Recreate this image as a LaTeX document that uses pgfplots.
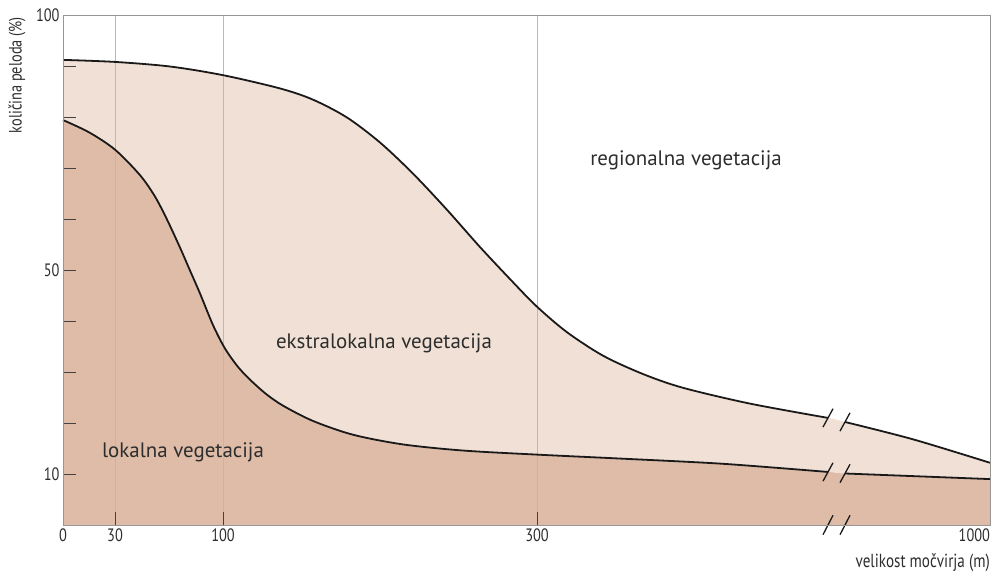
\documentclass[border=0pt]{standalone}
\usepackage{fontspec}
\setmainfont{PT Sans}
\usepackage{graphicx}
\usepackage{pgfplots}
\usepackage{pgfplotstable}
\pgfplotsset{compat=1.18}
\definecolor{lightf}{RGB}{240,224,213}
\definecolor{darkf}{RGB}{222,188,168}
\definecolor{framec}{RGB}{150,150,150}
\definecolor{gridc}{RGB}{185,185,185}
\definecolor{txt}{RGB}{45,45,45}
\newcommand{\nar}[1]{\scalebox{0.8}[1]{#1}}
\pgfplotstableread{
x y
0 91.2
52 90.8
107 89.9
160 88.2
217 85.6
250 83.4
284 79.9
317 75.0
350 68.9
384 61.8
417 54.5
450 47.6
474 42.8
504 37.8
540 33.2
580 29.6
620 26.9
687 23.8
765 21.0
782 20.2
850 16.8
927 12.2
}\uppercurve
\pgfplotstableread{
x y
0 79.4
26 77.0
52 73.6
77 68.6
92 64.4
104 59.9
117 54.4
127 49.9
137 45.4
150 39.2
162 34.6
175 31.0
187 28.5
203 25.7
220 23.4
250 20.4
290 17.7
340 15.8
400 14.6
474 13.8
560 13.0
660 12.0
765 10.4
782 10.1
927 9.0
}\lowercurve
\begin{document}
\begin{tikzpicture}
\path[use as bounding box] (-63bp,-48bp) rectangle (929bp,525bp);
\begin{axis}[
  at={(0,0)}, anchor=south west,
  scale only axis, width=927bp, height=510bp,
  xmin=0, xmax=927, ymin=0, ymax=100,
  axis on top,
  axis line style={framec, line width=0.9bp},
  tick align=inside, tick pos=left,
  major tick length=13bp,
  tick style={txt!90, line width=0.9bp},
  xtick={0,52,160,474,927},
  xticklabels={\nar{0},\nar{30},\nar{100},\nar{300},\llap{\nar{1000}}},
  ytick={10,20,30,40,50,60,70,80,90,100},
  yticklabels={\nar{10},,,,\nar{50},,,,,\nar{100}},
  ticklabel style={font=\fontsize{18}{18}\selectfont, text=txt},
  clip=false,
]
% areas
\addplot[fill=lightf, draw=none, smooth] table {\uppercurve} \closedcycle;
\addplot[fill=darkf, draw=none, smooth] table {\lowercurve} \closedcycle;
% grid lines
\addplot[gridc, line width=0.9bp] coordinates {(52,0) (52,100)};
\addplot[gridc, line width=0.9bp] coordinates {(160,0) (160,100)};
\addplot[gridc, line width=0.9bp] coordinates {(474,0) (474,100)};
% curves (broken at the axis break)
\addplot[black!90, line width=1.8bp, smooth, restrict x to domain=0:770] table {\uppercurve};
\addplot[black!90, line width=1.8bp, smooth, restrict x to domain=775:927] table {\uppercurve};
\addplot[black!90, line width=1.8bp, smooth, restrict x to domain=0:770] table {\lowercurve};
\addplot[black!90, line width=1.8bp, smooth, restrict x to domain=775:927] table {\lowercurve};
% break marks
\draw[black!90, line width=1.3bp] (axis cs:760,19.2) -- (axis cs:770,22.8);
\draw[black!90, line width=1.3bp] (axis cs:777,18.4) -- (axis cs:787,22.0);
\draw[black!90, line width=1.3bp] (axis cs:760,8.6) -- (axis cs:770,12.2);
\draw[black!90, line width=1.3bp] (axis cs:777,8.3) -- (axis cs:787,11.9);
\draw[black!90, line width=1.3bp] (axis cs:760,-1.9) -- (axis cs:770,1.9);
\draw[black!90, line width=1.3bp] (axis cs:777,-1.9) -- (axis cs:787,1.9);
% texts
\node[text=txt, font=\fontsize{21}{21}\selectfont] at (axis cs:623,71.6) {regionalna vegetacija};
\node[text=txt, font=\fontsize{21}{21}\selectfont] at (axis cs:321,35.7) {ekstralokalna vegetacija};
\node[text=txt, font=\fontsize{21}{21}\selectfont] at (axis cs:120,14.3) {lokalna vegetacija};
\node[rotate=90, text=txt, font=\fontsize{18}{18}\selectfont] at (axis cs:-46,88.2) {\nar{količina peloda (\%)}};
\node[anchor=east, inner sep=0pt, text=txt, font=\fontsize{19}{19}\selectfont] at (axis cs:927,-7.3) {\nar{velikost močvirja (m)}};
\end{axis}
\end{tikzpicture}
\end{document}
